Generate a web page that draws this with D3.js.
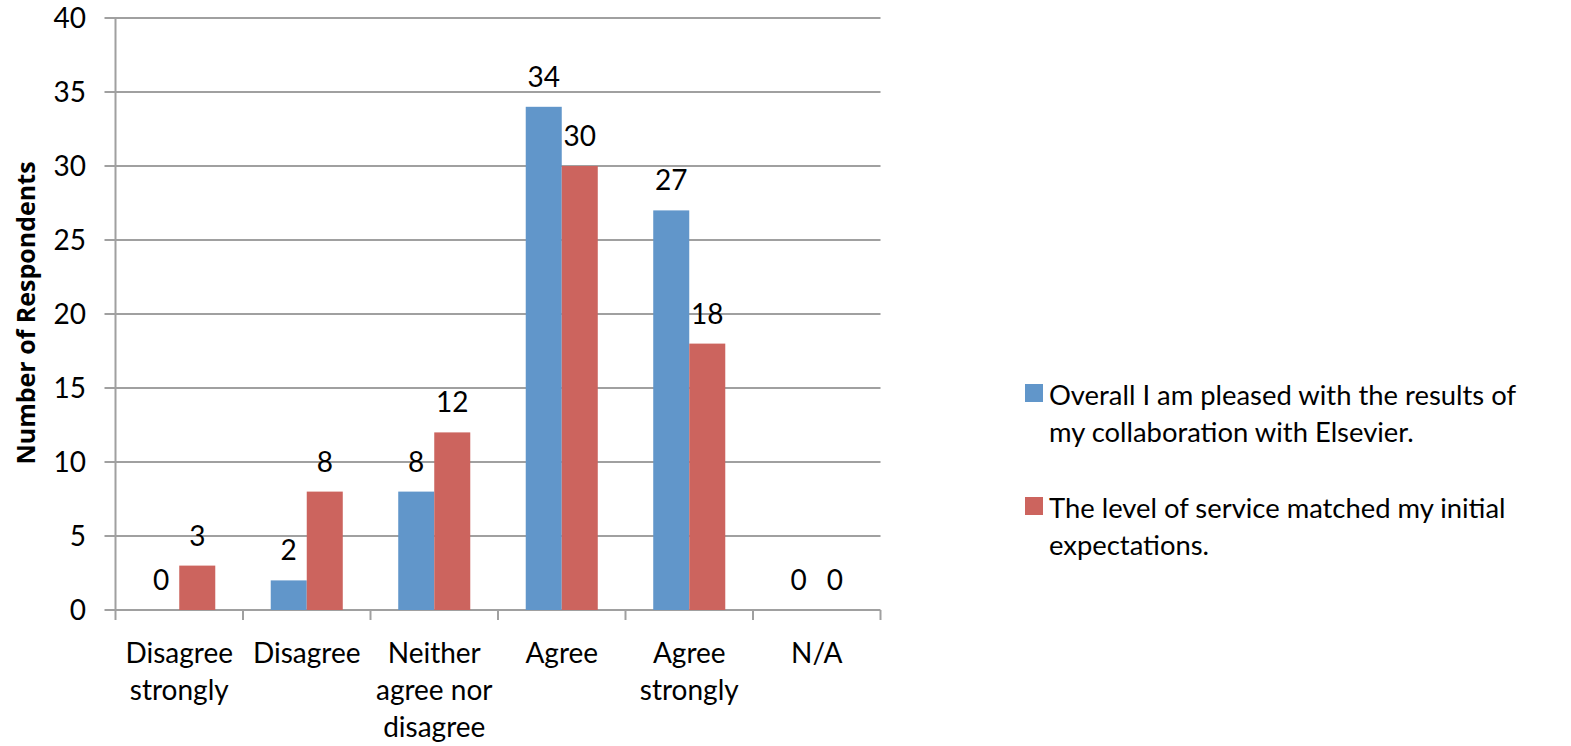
<!DOCTYPE html>
<html><head><meta charset="utf-8">
<script src="https://cdn.jsdelivr.net/npm/d3@7"></script>
<style>body{margin:0;background:#fff}svg{display:block}text{font-family:Lato,"Open Sans",sans-serif;fill:#000}</style>
</head><body><svg id="c" width="1571" height="746"></svg>
<script>
const categories = ["Disagree\nstrongly","Disagree","Neither\nagree nor\ndisagree","Agree","Agree\nstrongly","N/A"];
const seriesNames = ["Overall I am pleased with the results of\nmy collaboration with Elsevier.","The level of service matched my initial\nexpectations."];
const pleased = [0,2,8,34,27,0];
const service = [3,8,12,30,18,0];
const yTicks = [0,5,10,15,20,25,30,35,40];
const colors = ["#6196CA","#CC645E"];
const yTitle = "Number of Respondents";

const svg = d3.select("#c");
const L=115.5, R=880.5, T=18, B=610;
const x = d3.scaleBand().domain(categories).range([L,R]).padding(0);
const xs = d3.scaleBand().domain([0,1]).range([0,x.bandwidth()]).paddingInner(0).paddingOuter(0.77);
const y = d3.scaleLinear().domain([0,40]).range([B,T]);
const grid="#A0A0A0";

// gridlines
svg.append("g").selectAll("line").data(yTicks).join("line")
  .attr("x1",L-11).attr("x2",R).attr("y1",d=>y(d)).attr("y2",d=>y(d))
  .attr("stroke",grid).attr("stroke-width",2);
// y axis line
svg.append("line").attr("x1",L).attr("x2",L).attr("y1",T).attr("y2",B).attr("stroke",grid).attr("stroke-width",2);
// x ticks
const xt = categories.map(c=>x(c)).concat([R]);
svg.append("g").selectAll("line").data(xt).join("line")
  .attr("x1",d=>d).attr("x2",d=>d).attr("y1",B).attr("y2",B+10).attr("stroke",grid).attr("stroke-width",2);
// y tick labels
svg.append("g").selectAll("text").data(yTicks).join("text")
  .attr("x",86).attr("y",d=>y(d)).attr("dy","0.36em").attr("text-anchor","end")
  .attr("font-size",28).text(d=>d);

const series=[pleased,service];
series.forEach((vals,si)=>{
  const g=svg.append("g");
  g.selectAll("rect").data(vals).join("rect")
    .attr("x",(d,i)=>x(categories[i])+xs(si)).attr("width",xs.bandwidth())
    .attr("y",d=>y(d)).attr("height",d=>B-y(d)).attr("fill",colors[si]);
  g.selectAll("text").data(vals).join("text")
    .attr("x",(d,i)=>x(categories[i])+xs(si)+xs.bandwidth()/2)
    .attr("y",d=>y(d)-20).attr("text-anchor","middle").attr("font-size",28).text(d=>d);
});
// category labels
categories.forEach(c=>{
  const t=svg.append("text").attr("text-anchor","middle").attr("font-size",28);
  c.split("\n").forEach((ln,i)=>{
    t.append("tspan").attr("x",x(c)+x.bandwidth()/2).attr("y",663+i*37).text(ln);
  });
});
// y title
svg.append("text").attr("transform","translate(35,313) rotate(-90)").attr("text-anchor","middle")
  .style("font-family","'Open Sans',sans-serif")
  .attr("font-size",25).attr("font-weight","bold").text(yTitle);
// legend
const legY=[384,497];
seriesNames.forEach((n,i)=>{
  svg.append("rect").attr("x",1025).attr("y",legY[i]).attr("width",18).attr("height",18).attr("fill",colors[i]);
  const t=svg.append("text").attr("font-size",27.4);
  n.split("\n").forEach((ln,j)=>t.append("tspan").attr("x",1049).attr("y",legY[i]+21+j*37).text(ln));
});
</script></body></html>
